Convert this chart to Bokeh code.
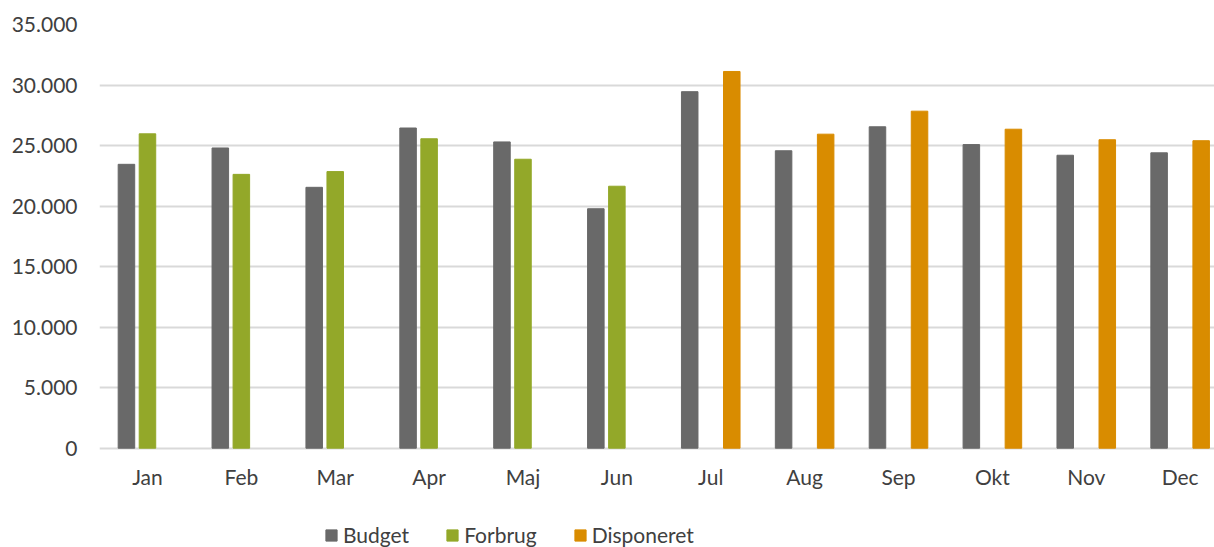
from bokeh.plotting import figure
from bokeh.models import Range1d, FixedTicker, Legend, LegendItem, ColumnDataSource
from bokeh.embed import file_html
from bokeh.resources import INLINE

months = ["Jan", "Feb", "Mar", "Apr", "Maj", "Jun", "Jul", "Aug", "Sep", "Okt", "Nov", "Dec"]
budget = [23450, 24800, 21550, 26450, 25300, 19780, 29450, 24570, 26550, 25080, 24200, 24400]
forbrug = [25970, 22620, 22850, 25560, 23870, 21640, None, None, None, None, None, None]
disponeret = [None, None, None, None, None, None, 31120, 25940, 27840, 26350, 25480, 25400]
y_ticks = [0, 5000, 10000, 15000, 20000, 25000, 30000, 35000]

series_names = ["Budget", "Forbrug", "Disponeret"]
colors = ["#696969", "#93A829", "#D98C00"]
offsets = [-0.224, 0.0, 0.224]
bar_w = 0.176

FONT = "Lato"
TXT = "#404040"

# frame extends below zero so the legend area lies inside it
p = figure(width=1214, height=547, output_backend="svg", toolbar_location=None,
           x_range=Range1d(-0.511, 11.366), y_range=Range1d(-8203, 35000),
           min_border_left=99, min_border_right=0, min_border_top=24, min_border_bottom=0)
p.outline_line_color = None
p.background_fill_color = "white"
p.border_fill_color = "white"

renderers = []
for name, vals, col, off in zip(series_names, [budget, forbrug, disponeret], colors, offsets):
    xs = [i + off for i, v in enumerate(vals) if v is not None]
    ys = [v for v in vals if v is not None]
    src = ColumnDataSource(dict(x=xs, top=ys))
    r = p.vbar(x="x", top="top", bottom=0, width=bar_w, source=src,
               fill_color=col, line_color=col, line_width=1)
    renderers.append((name, r))

# axes
p.xaxis.ticker = FixedTicker(ticks=list(range(len(months))))
p.xaxis.major_label_overrides = {i: m for i, m in enumerate(months)}
p.xaxis.fixed_location = 0
p.yaxis.ticker = FixedTicker(ticks=y_ticks)
p.yaxis.major_label_overrides = {t: f"{t:,}".replace(",", ".") for t in y_ticks}

for ax in [p.xaxis[0], p.yaxis[0]]:
    ax.axis_line_color = None
    ax.major_tick_line_color = None
    ax.minor_tick_line_color = None
    ax.major_tick_out = 0
    ax.major_tick_in = 0
    ax.minor_tick_out = 0
    ax.major_label_text_font = FONT
    ax.major_label_text_font_size = "21px"
    ax.major_label_text_color = TXT
p.yaxis.major_label_standoff = 22
p.xaxis.major_label_standoff = 16

p.xgrid.grid_line_color = None
p.ygrid.ticker = FixedTicker(ticks=y_ticks)
p.ygrid.grid_line_color = "#d9d9d9"
p.ygrid.grid_line_width = 2

legend = Legend(items=[LegendItem(label=n, renderers=[r]) for n, r in renderers],
                orientation="horizontal", location=(225, 0),
                glyph_width=14, glyph_height=14, label_standoff=5, spacing=36,
                padding=0, margin=0, border_line_color=None, background_fill_alpha=0,
                label_text_font=FONT, label_text_font_size="21px", label_text_color=TXT)
p.add_layout(legend, "center")

open("out.html", "w").write(file_html(p, INLINE))
